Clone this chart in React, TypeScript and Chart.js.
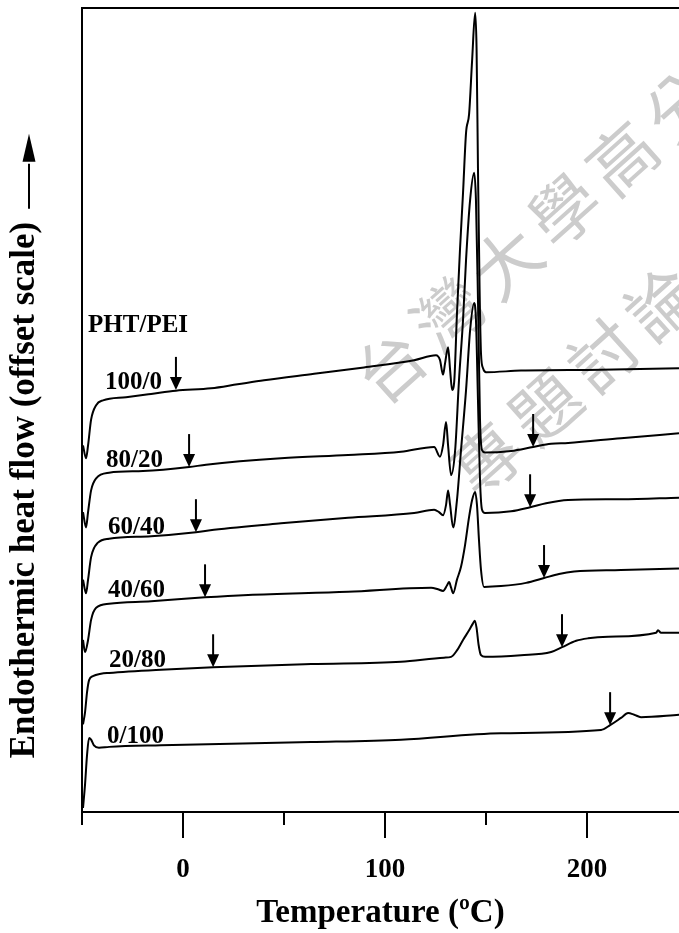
import React, { useEffect, useRef } from 'react';
import { Chart, registerables } from 'chart.js';

Chart.register(...registerables);

// ---------------- data ----------------
const X_TICKS = [-50, 0, 50, 100, 150, 200];
const X_LABELED = [0, 100, 200];

const SERIES_NAMES = ['100/0', '80/20', '60/40', '40/60', '20/80', '0/100'];

// PHT/PEI 100/0
const T_100_0 = [-49.5, -48, -47, -45.5, -43, -39.6, -28.2, -15.8, -3.5, 13.9, 27.0, 40.1, 64.9, 89.6, 114.4, 125.2, 127.2, 128.7, 129.7, 131.2, 132.2, 133.2, 134.2, 135.6, 137.1, 138.6, 140.1, 141.6, 143.1, 144.6, 145.3, 146.0, 146.8, 147.5, 148.5, 150.0, 167.3, 206.9, 245.5];
const Q_100_0 = [45.6, 44.0, 45.6, 48.8, 50.6, 51.2, 51.6, 52.0, 52.4, 52.7, 53.2, 53.7, 54.5, 55.3, 56.2, 56.8, 56.2, 54.4, 55.8, 57.8, 55.0, 52.5, 53.4, 62.0, 70.0, 77.0, 84.5, 86.8, 93.5, 99.4, 95.0, 80.0, 65.0, 57.0, 55.2, 54.7, 54.9, 55.0, 55.2];

// PHT/PEI 80/20
const T_80_20 = [-49.5, -48, -47, -45.5, -43, -36.6, -19.8, 3, 11.4, 48.5, 81.7, 107.9, 124.3, 127.2, 128.7, 130.2, 131.2, 132.7, 134.7, 136.6, 138.6, 140.1, 142.1, 144.1, 145.0, 146.0, 147.0, 148.0, 149.5, 162.4, 173.3, 182.2, 190.6, 216.8, 245.5];
const Q_80_20 = [37.3, 35.4, 37.3, 40.0, 41.5, 42.2, 42.4, 42.9, 43.2, 44.0, 44.4, 44.8, 45.4, 44.2, 45.6, 48.5, 45.6, 41.9, 45.0, 53.7, 61.2, 68.7, 76.1, 79.5, 76.1, 63.7, 48.8, 45.0, 44.7, 44.9, 45.4, 45.8, 45.9, 46.5, 47.1];

// PHT/PEI 60/40
const T_60_40 = [-49.5, -48, -47, -45.5, -42.1, -36.6, -15.8, 6.4, 15.3, 48.5, 81.7, 114.4, 124.3, 126.7, 128.7, 130.2, 131.2, 132.2, 133.7, 135.6, 137.6, 140.1, 142.1, 144.1, 145.0, 146.0, 147.0, 148.0, 149.5, 162.4, 171.8, 179.7, 190.6, 216.8, 245.5];
const Q_60_40 = [28.9, 27.2, 28.9, 31.7, 33.5, 34.0, 34.3, 34.8, 35.1, 35.9, 36.6, 37.2, 37.6, 37.3, 36.9, 38.2, 40.0, 38.2, 35.4, 38.8, 45.0, 52.5, 59.9, 63.3, 61.2, 51.2, 41.3, 37.6, 37.2, 37.4, 37.9, 38.4, 38.8, 38.9, 39.1];

// PHT/PEI 40/60
const T_40_60 = [-49.5, -48.5, -47, -45.5, -43, -36.6, -15.8, 10.9, 32.2, 81.7, 122.8, 126.2, 128.7, 130.7, 131.7, 132.7, 133.7, 135.6, 137.6, 139.6, 141.6, 143.1, 144.6, 145.5, 146.5, 147.5, 149.0, 157.4, 169.8, 178.7, 186.1, 193.6, 216.8, 245.5];
const Q_40_60 = [21.4, 19.9, 21.4, 23.9, 25.4, 25.9, 26.2, 26.7, 27.0, 27.4, 27.9, 27.7, 27.5, 28.2, 28.6, 27.9, 27.2, 28.9, 30.5, 33.2, 36.7, 38.8, 39.8, 38.2, 33.8, 30.1, 28.0, 28.1, 28.5, 29.1, 29.6, 29.9, 30.1, 30.3];

// PHT/PEI 20/80
const T_20_80 = [-49.5, -48.5, -47.5, -46.5, -44.6, -40.6, -36.6, -10.9, 14.9, 63.4, 107.9, 129.2, 132.7, 135.6, 138.6, 141.6, 143.4, 144.4, 145.3, 146.3, 147.5, 149.5, 167.3, 182.2, 187.6, 194.6, 200.5, 210.4, 234.2, 235.1, 236.6, 245.5];
const Q_20_80 = [10.9, 12.4, 14.9, 16.4, 16.9, 17.2, 17.3, 17.7, 18.0, 18.4, 18.7, 19.2, 19.3, 20.1, 21.4, 22.6, 23.4, 23.8, 22.9, 20.8, 19.5, 19.3, 19.5, 19.9, 20.5, 21.3, 21.6, 21.8, 22.3, 22.6, 22.3, 22.3];

// PHT/PEI 0/100
const T_0_100 = [-49.5, -48.5, -47.5, -46.5, -45.5, -44.1, -41.6, -36.6, -10.9, 63.4, 107.9, 157.4, 206.9, 211.4, 216.8, 220.3, 223.3, 226.7, 245.5];
const Q_0_100 = [0.5, 3.4, 7.1, 9.2, 9.0, 8.3, 8.0, 8.1, 8.3, 8.7, 9.0, 9.8, 10.2, 10.8, 11.7, 12.3, 12.1, 11.8, 12.1];

const SERIES_T = [T_100_0, T_80_20, T_60_40, T_40_60, T_20_80, T_0_100];
const SERIES_Q = [Q_100_0, Q_80_20, Q_60_40, Q_40_60, Q_20_80, Q_0_100];

// curve labels (left edge, baseline) in data units
const LABEL_T = [-38.6, -38.1, -37.1, -37.1, -36.6, -37.6];
const LABEL_Q = [52.6, 42.9, 34.6, 26.7, 18.0, 8.6];
const HEADER_TEXT = 'PHT/PEI';
const HEADER_T = -47;
const HEADER_Q = 59.7;

// Tg arrows (tip positions) in data units
const ARROW_T = [-3.5, 3, 173.3, 6.4, 171.8, 10.9, 178.7, 14.9, 187.6, 211.4];
const ARROW_Q = [52.5, 42.9, 45.4, 34.8, 37.9, 26.7, 29.1, 18.0, 20.5, 10.8];

const X_TITLE = 'Temperature (ºC)';
const Y_TITLE = 'Endothermic heat flow (offset scale)';
const WATERMARK_LINES = ['台灣大學高分', '專題討論'];

// ---------------- chart ----------------
const FONT = '"Liberation Serif", "Times New Roman", serif';

const decorPlugin = {
  id: 'decor',
  beforeDatasetsDraw(chart: any) {
    const ctx = chart.ctx;
    ctx.save();
    ctx.fillStyle = '#cccccc';
    ctx.font = '68px "Noto Sans CJK TC"';
    ctx.textAlign = 'center';
    ctx.textBaseline = 'middle';
    const ang = Math.atan2(-52, 58);
    const starts = [[390, 366], [487, 459]];
    WATERMARK_LINES.forEach((line, li) => {
      Array.from(line).forEach((ch, i) => {
        ctx.save();
        ctx.translate(starts[li][0] + 58 * i, starts[li][1] - 52 * i);
        ctx.rotate(ang);
        ctx.fillText(ch, 0, 0);
        ctx.restore();
      });
    });
    ctx.restore();
  },
  afterDraw(chart: any) {
    const ctx = chart.ctx;
    const xs = chart.scales.x;
    const ys = chart.scales.y;
    const area = chart.chartArea;
    ctx.save();
    ctx.strokeStyle = '#000';
    ctx.fillStyle = '#000';
    ctx.lineWidth = 2;
    // top frame line
    ctx.beginPath();
    ctx.moveTo(area.left - 1, area.top);
    ctx.lineTo(chart.width, area.top);
    ctx.stroke();
    // x ticks
    X_TICKS.forEach((v) => {
      const px = Math.round(xs.getPixelForValue(v));
      const len = X_LABELED.includes(v) ? 26 : 13;
      ctx.beginPath();
      ctx.moveTo(px, area.bottom);
      ctx.lineTo(px, area.bottom + len);
      ctx.stroke();
    });
    // Tg arrows
    ARROW_T.forEach((t, i) => {
      const px = xs.getPixelForValue(t);
      const py = ys.getPixelForValue(ARROW_Q[i]);
      ctx.beginPath();
      ctx.moveTo(px, py - 33);
      ctx.lineTo(px, py - 10);
      ctx.stroke();
      ctx.beginPath();
      ctx.moveTo(px, py);
      ctx.lineTo(px - 6, py - 13);
      ctx.lineTo(px + 6, py - 13);
      ctx.closePath();
      ctx.fill();
    });
    // labels
    ctx.font = `bold 25px ${FONT}`;
    ctx.textAlign = 'left';
    ctx.textBaseline = 'alphabetic';
    SERIES_NAMES.forEach((name, i) => {
      ctx.fillText(name, xs.getPixelForValue(LABEL_T[i]), ys.getPixelForValue(LABEL_Q[i]));
    });
    ctx.fillText(HEADER_TEXT, xs.getPixelForValue(HEADER_T), ys.getPixelForValue(HEADER_Q));
    // y title with arrow
    ctx.font = `bold 35px ${FONT}`;
    const w = ctx.measureText(Y_TITLE).width;
    const cy = 490;
    ctx.save();
    ctx.translate(34, cy);
    ctx.rotate(-Math.PI / 2);
    ctx.textAlign = 'center';
    ctx.fillText(Y_TITLE, 0, 0);
    ctx.restore();
    const end = cy - w / 2;
    ctx.beginPath();
    ctx.moveTo(29, end - 13);
    ctx.lineTo(29, end - 58);
    ctx.stroke();
    ctx.beginPath();
    ctx.moveTo(29, end - 88);
    ctx.lineTo(22.5, end - 60);
    ctx.lineTo(35.5, end - 60);
    ctx.closePath();
    ctx.fill();
    ctx.restore();
  },
};

export default function App() {
  const ref = useRef<HTMLCanvasElement>(null);
  useEffect(() => {
    document.body.style.margin = '0';
    const datasets = SERIES_NAMES.map((name, s) => ({
      label: name,
      data: SERIES_T[s].map((t, i) => ({ x: t, y: SERIES_Q[s][i] })),
      borderColor: '#000',
      borderWidth: 2,
      pointRadius: 0,
      fill: false,
      cubicInterpolationMode: 'monotone' as const,
    }));
    const chart = new Chart(ref.current as HTMLCanvasElement, {
      type: 'line',
      data: { datasets },
      options: {
        animation: false,
        responsive: false,
        devicePixelRatio: 1,
        layout: { padding: { left: 82, right: 0, top: 8, bottom: 0 } },
        plugins: { legend: { display: false }, tooltip: { enabled: false } },
        scales: {
          x: {
            type: 'linear',
            min: -50,
            max: 245.5,
            grid: { display: false, drawTicks: false },
            border: { display: true, color: '#000', width: 2 },
            afterBuildTicks: (scale: any) => {
              scale.ticks = X_TICKS.map((v) => ({ value: v }));
            },
            afterFit: (scale: any) => {
              scale.height = 121;
            },
            ticks: {
              color: '#000',
              padding: 42,
              maxRotation: 0,
              autoSkip: false,
              font: { family: FONT, size: 27, weight: 'bold' },
              callback: (v: any) => (X_LABELED.includes(Number(v)) ? String(v) : ''),
            },
            title: {
              display: true,
              text: X_TITLE,
              color: '#000',
              font: { family: FONT, size: 33, weight: 'bold' },
              padding: { top: 0, bottom: 0 },
            },
          },
          y: {
            type: 'linear',
            min: 0,
            max: 100,
            grid: { display: false, drawTicks: false },
            border: { display: true, color: '#000', width: 2 },
            ticks: { display: false },
            afterFit: (scale: any) => {
              scale.width = 0;
            },
          },
        },
      },
      plugins: [decorPlugin],
    } as any);
    return () => chart.destroy();
  }, []);
  return (
    <canvas
      ref={ref}
      width={679}
      height={933}
      style={{ display: 'block', width: '679px', height: '933px' }}
    />
  );
}
